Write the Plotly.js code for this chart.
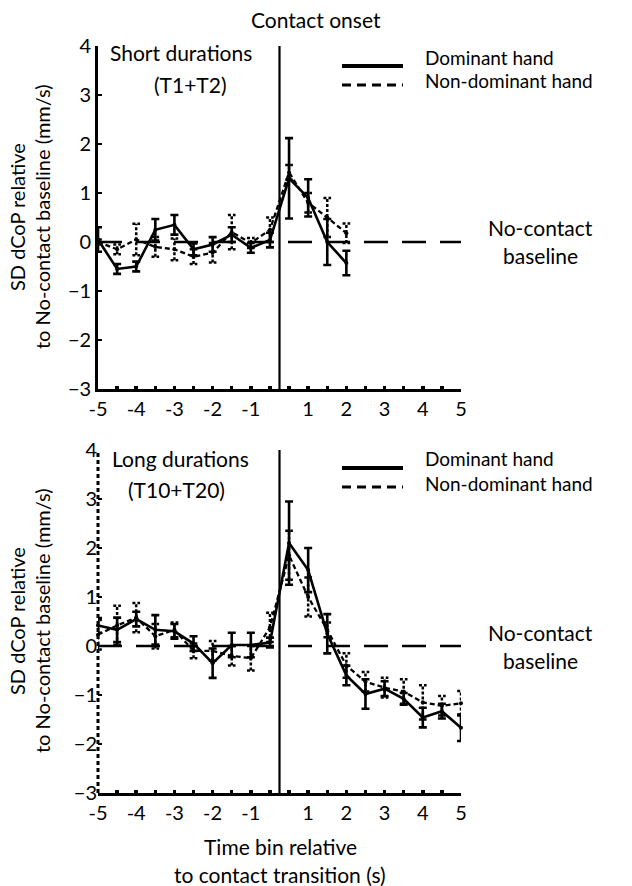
<!DOCTYPE html>
<html><head><meta charset="utf-8">
<script src="https://cdn.plot.ly/plotly-3.0.1.min.js"></script>
<style>html,body{margin:0;padding:0;background:#fff}#chart{width:632px;height:886px}</style>
</head><body><div id="chart"></div>
<script>
// ---------- DATA ----------
const timeBins = ["-5","-4.5","-4","-3.5","-3","-2.5","-2","-1.5","-1","-0.5","0.5","1","1.5","2","2.5","3","3.5","4","4.5","5"];
const tickLabels = ["-5","-4","-3","-2","-1","1","2","3","4","5"];
const yTicks = [-3,-2,-1,0,1,2,3,4];
const BASELINE = 0;

// Short durations (T1+T2) - bins -5 .. 2
const shortDominant    = [0.05,-0.55,-0.50,0.25,0.35,-0.15,-0.05,0.15,-0.12,0.04,1.30,0.90,0.00,-0.43];
const shortDominantErr = [0.25,0.10,0.10,0.22,0.20,0.12,0.15,0.15,0.10,0.15,0.82,0.38,0.47,0.25];
const shortNonDom      = [0.00,-0.15,0.05,-0.10,-0.15,-0.30,-0.22,0.20,-0.02,0.25,1.42,0.80,0.50,0.18];
const shortNonDomErr   = [0.05,0.10,0.32,0.20,0.22,0.15,0.20,0.35,0.10,0.25,0.15,0.20,0.40,0.20];

// Long durations (T10+T20) - bins -5 .. 5
const longDominant     = [0.42,0.33,0.55,0.33,0.30,0.05,-0.35,0.02,0.02,0.07,2.10,1.55,0.25,-0.60,-0.98,-0.87,-1.08,-1.46,-1.33,-1.67];
const longDominantErr  = [0.15,0.25,0.15,0.30,0.15,0.15,0.30,0.25,0.25,0.10,0.85,0.45,0.40,0.20,0.30,0.15,0.12,0.20,0.15,0.27];
const longNonDom       = [0.23,0.42,0.58,0.20,0.33,-0.10,-0.10,-0.20,-0.25,0.38,1.85,1.00,0.33,-0.40,-0.73,-0.85,-0.93,-1.15,-1.22,-1.17];
const longNonDomErr    = [0.30,0.40,0.30,0.25,0.15,0.15,0.20,0.20,0.25,0.30,0.50,0.40,0.15,0.25,0.20,0.20,0.25,0.35,0.20,0.25];

// ---------- HELPERS ----------
const W = 632, H = 886;
const px = v => v / W;
const py = v => 1 - v / H;
const FONT = "Lato, 'Open Sans', sans-serif";
const TXT = 21;
const idx = arr => arr.map((_, i) => i);
const tickVals = tickLabels.map(l => timeBins.indexOf(l));
const contactX = (timeBins.indexOf("-0.5") + timeBins.indexOf("0.5")) / 2;
const lastIdx = timeBins.length - 1;

function solidTrace(vals, errs, xa, ya) {
  return {
    x: idx(vals), y: vals, xaxis: xa, yaxis: ya, type: 'scatter', mode: 'lines+markers',
    line: {color: '#000', width: 2.6}, marker: {color: '#000', size: 4},
    error_y: {type: 'data', array: errs, visible: true, color: '#000', thickness: 2.6, width: 4},
    cliponaxis: false, showlegend: false, hoverinfo: 'skip'
  };
}
function dashTrace(vals, xa, ya) {
  return {
    x: idx(vals), y: vals, xaxis: xa, yaxis: ya, type: 'scatter', mode: 'lines+markers',
    line: {color: '#000', width: 2.3, dash: '5px,3px'}, marker: {color: '#000', size: 4},
    cliponaxis: false, showlegend: false, hoverinfo: 'skip'
  };
}
function dottedErr(vals, errs, xa, ya) {
  const xs = [], ys = [];
  const cap = 0.2;
  vals.forEach((v, i) => {
    const e = errs[i];
    xs.push(i, i, null); ys.push(v - e, v + e, null);
    xs.push(i - cap, i + cap, null); ys.push(v + e, v + e, null);
    xs.push(i - cap, i + cap, null); ys.push(v - e, v - e, null);
  });
  return {
    x: xs, y: ys, xaxis: xa, yaxis: ya, type: 'scatter', mode: 'lines',
    line: {color: '#000', width: 2.5, dash: '3px,2px'},
    cliponaxis: false, showlegend: false, hoverinfo: 'skip', connectgaps: false
  };
}

const data = [
  dottedErr(shortNonDom, shortNonDomErr, 'x', 'y'),
  dashTrace(shortNonDom, 'x', 'y'),
  solidTrace(shortDominant, shortDominantErr, 'x', 'y'),
  dottedErr(longNonDom, longNonDomErr, 'x2', 'y2'),
  dashTrace(longNonDom, 'x2', 'y2'),
  solidTrace(longDominant, longDominantErr, 'x2', 'y2')
];

const xDomain = [px(98), px(461)];
const topDomain = [py(389), py(46)];
const botDomain = [py(793), py(450)];
function xAxis(anchor) {
  return {
    domain: xDomain, anchor: anchor, range: [0, lastIdx],
    tickmode: 'array', tickvals: tickVals, ticktext: tickLabels,
    ticks: 'inside', ticklen: 3, tickwidth: 3.5, tickcolor: '#000',
    minor: {tickmode: 'linear', tick0: 0, dtick: 1, ticks: 'inside', ticklen: 3, tickwidth: 3.5, tickcolor: '#000', showgrid: false},
    showline: true, linewidth: 3, linecolor: '#000',
    showgrid: false, zeroline: false,
    tickfont: {family: FONT, size: 20, color: '#000'}
  };
}
function yAxis(anchor, dom, line) {
  return {
    domain: dom, anchor: anchor, range: [-3, 4],
    tickmode: 'array', tickvals: yTicks,
    ticks: 'inside', ticklen: 4, tickwidth: 2.5, tickcolor: '#000',
    showline: line, linewidth: 2.8, linecolor: '#000',
    showgrid: false, zeroline: false,
    tickfont: {family: FONT, size: 20, color: '#000'}
  };
}

const shapes = [];
[['x','y'],['x2','y2']].forEach(([xa, ya]) => {
  shapes.push({type: 'line', xref: xa, yref: ya, x0: contactX, x1: contactX, y0: -3, y1: 4, line: {color: '#000', width: 2.2}});
  shapes.push({type: 'line', xref: xa, yref: ya, x0: 0, x1: lastIdx, y0: BASELINE, y1: BASELINE, line: {color: '#000', width: 2.6, dash: '24px,14px'}});
});
// dotted left axis line of the lower panel (paper coords so it is not clipped)
shapes.push({type: 'line', xref: 'paper', yref: 'paper', x0: xDomain[0], x1: xDomain[0], y0: botDomain[0], y1: botDomain[1], line: {color: '#000', width: 3, dash: '4px,3px'}});

const annotations = [];
function txt(text, x, y, opts = {}) {
  annotations.push(Object.assign({
    text: text, xref: 'paper', yref: 'paper', x: px(x), y: py(y),
    xanchor: 'center', yanchor: 'middle', showarrow: false,
    font: {family: FONT, size: TXT, color: '#000'}
  }, opts));
}
const LEG = {family: FONT, size: 19, color: '#000'};
[0, 402].forEach(off => {
  shapes.push({type: 'line', xref: 'paper', yref: 'paper', x0: px(342), x1: px(403), y0: py(66 + off), y1: py(66 + off), line: {color: '#000', width: 4}});
  shapes.push({type: 'line', xref: 'paper', yref: 'paper', x0: px(342), x1: px(403), y0: py(85 + off), y1: py(85 + off), line: {color: '#000', width: 3, dash: '9px,6px'}});
  txt('Dominant hand', 424, 57 + off, {xanchor: 'left', font: LEG, borderpad: 0});
  txt('Non-dominant hand', 424, 81 + off, {xanchor: 'left', font: LEG, borderpad: 0});
});
txt('Contact onset', 316, 20);
txt('Short durations', 108, 52, {xanchor: 'left'});
txt('(T1+T2)', 190, 84);
txt('Long durations', 110, 458, {xanchor: 'left'});
txt('(T10+T20)', 176, 489);
txt('No-contact', 540, 228); txt('baseline', 540, 256);
txt('No-contact', 540, 632); txt('baseline', 540, 660);
[217, 621].forEach(cy => {
  txt('SD dCoP relative', 17, cy, {textangle: -90, font: {family: FONT, size: 20, color: '#000'}});
  txt('to No-contact baseline (mm/s)', 42, cy, {textangle: -90, font: {family: FONT, size: 20, color: '#000'}});
});
txt('Time bin relative', 280, 846);
txt('to contact transition (s)', 280, 874);

const layout = {
  width: W, height: H, margin: {l: 0, r: 0, t: 0, b: 0},
  paper_bgcolor: '#fff', plot_bgcolor: 'rgba(0,0,0,0)',
  showlegend: false,
  xaxis: xAxis('y'), yaxis: yAxis('x', topDomain, true),
  xaxis2: xAxis('y2'), yaxis2: yAxis('x2', botDomain, false),
  shapes: shapes, annotations: annotations,
  font: {family: FONT, color: '#000'}
};

Plotly.newPlot('chart', data, layout, {staticPlot: true, displayModeBar: false});
</script>
</body></html>
